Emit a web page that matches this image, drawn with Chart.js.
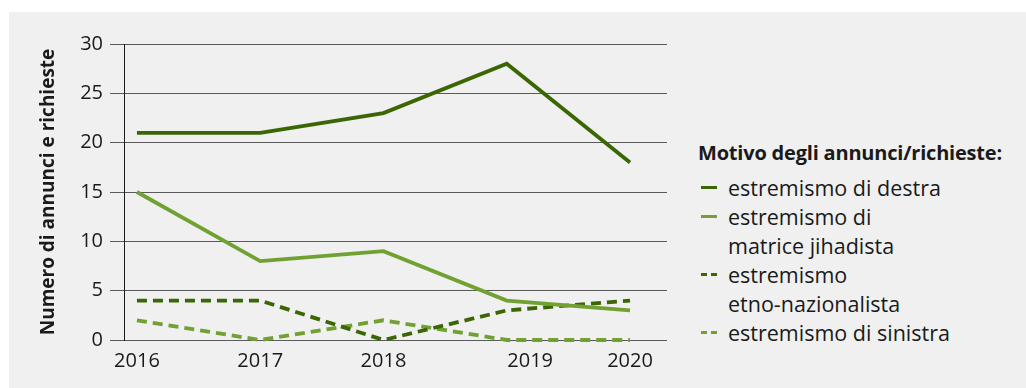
<!DOCTYPE html>
<html lang="it">
<head>
<meta charset="UTF-8">
<title>Motivo degli annunci/richieste</title>
<script src="https://cdn.jsdelivr.net/npm/chart.js"></script>
<style>
  html, body { margin: 0; padding: 0; background: #fff; }
  body { width: 1026px; height: 388px; position: relative; overflow: hidden; font-family: "Open Sans", sans-serif; }
  .panel { position: absolute; left: 9px; top: 12px; right: 0; bottom: 0; background: #eff0ef; }
  .chart-box { position: absolute; left: 0; top: 0; width: 690px; height: 388px; }
  #legend { position: absolute; left: 698px; top: 138px; color: #1a1a1a; }
  #legend h3 { margin: 0 0 5px 0; font-size: 20px; font-weight: 700; line-height: 30px; letter-spacing: -0.2px; }
  #legend ul { list-style: none; margin: 0; padding: 0; }
  #legend li { position: relative; padding-left: 30px; font-size: 21.5px; line-height: 29px; }
  #legend .sw { position: absolute; left: 3px; top: 13px; width: 16px; height: 3px; }
</style>
</head>
<body>
<div class="panel"></div>
<div class="chart-box"><canvas id="chart"></canvas></div>
<div id="legend"></div>

<script>
const years = [2016, 2017, 2018, 2019, 2020];
const yearLabels = ['2016', '2017', '2018', '2019', '2020'];

const destra = [21, 21, 23, 28, 18];
const jihadista = [15, 8, 9, 4, 3];
const etnoNazionalista = [4, 4, 0, 3, 4];
const sinistra = [2, 0, 2, 0, 0];

const seriesNames = [
  ['estremismo di destra'],
  ['estremismo di', 'matrice jihadista'],
  ['estremismo', 'etno-nazionalista'],
  ['estremismo di sinistra']
];

const yTicks = [0, 5, 10, 15, 20, 25, 30];

const darkGreen = '#3b6604';
const lightGreen = '#70a132';

// the 2019 label sits a little to the right of its point
const labelShift = { 2019: 0.19 };

function toPoints(values) {
  return values.map((v, i) => ({ x: years[i], y: v }));
}

const datasets = [
  { values: destra, color: darkGreen, dash: [] },
  { values: jihadista, color: lightGreen, dash: [] },
  { values: etnoNazionalista, color: darkGreen, dash: [10, 6] },
  { values: sinistra, color: lightGreen, dash: [10, 6] }
].map((s, i) => ({
  label: seriesNames[i].join(' '),
  lines: seriesNames[i],
  data: toPoints(s.values),
  borderColor: s.color,
  backgroundColor: s.color,
  borderWidth: 3.8,
  borderDash: s.dash,
  borderCapStyle: 'butt',
  borderJoinStyle: 'miter',
  pointRadius: 0,
  tension: 0,
  clip: false
}));

const chart = new Chart(document.getElementById('chart'), {
  type: 'line',
  data: { datasets },
  options: {
    responsive: true,
    maintainAspectRatio: false,
    animation: false,
    layout: { padding: { top: 44, right: 23, bottom: 0, left: 0 } },
    plugins: { legend: { display: false }, tooltip: { enabled: false } },
    scales: {
      x: {
        type: 'linear',
        min: 2015.895,
        max: 2020.3,
        afterBuildTicks: (scale) => {
          scale.ticks = years.map(y => ({ value: y + (labelShift[y] || 0) }));
        },
        afterFit: (scale) => { scale.height = 48; },
        grid: { display: false, drawTicks: false },
        border: { display: false },
        ticks: {
          padding: 9,
          color: '#1a1a1a',
          font: { family: 'Open Sans', size: 20 },
          callback: (value, index) => yearLabels[index]
        }
      },
      y: {
        min: 0,
        max: 30,
        afterBuildTicks: (scale) => {
          scale.ticks = yTicks.map(v => ({ value: v }));
        },
        afterFit: (scale) => { scale.width = 124; },
        grid: { color: '#5a5a5a', lineWidth: 1, tickLength: 14 },
        border: { display: true, color: '#1a1a1a', width: 1 },
        ticks: {
          padding: 7,
          color: '#1a1a1a',
          font: { family: 'Open Sans', size: 20 }
        },
        title: {
          display: true,
          text: 'Numero di annunci e richieste',
          color: '#1a1a1a',
          font: { family: 'Open Sans', size: 19, weight: 'bold' },
          padding: { top: 37, bottom: 0 }
        }
      }
    }
  }
});

// legend built from the chart's datasets
const legend = document.getElementById('legend');
const title = document.createElement('h3');
title.textContent = 'Motivo degli annunci/richieste:';
legend.appendChild(title);
const list = document.createElement('ul');
chart.data.datasets.forEach(ds => {
  const li = document.createElement('li');
  const sw = document.createElement('span');
  sw.className = 'sw';
  if (ds.borderDash.length) {
    sw.style.background = `repeating-linear-gradient(90deg, ${ds.borderColor} 0 6px, transparent 6px 10px)`;
  } else {
    sw.style.background = ds.borderColor;
  }
  li.appendChild(sw);
  li.appendChild(document.createTextNode(ds.lines[0]));
  for (let k = 1; k < ds.lines.length; k++) {
    li.appendChild(document.createElement('br'));
    li.appendChild(document.createTextNode(ds.lines[k]));
  }
  list.appendChild(li);
});
legend.appendChild(list);
</script>
</body>
</html>
